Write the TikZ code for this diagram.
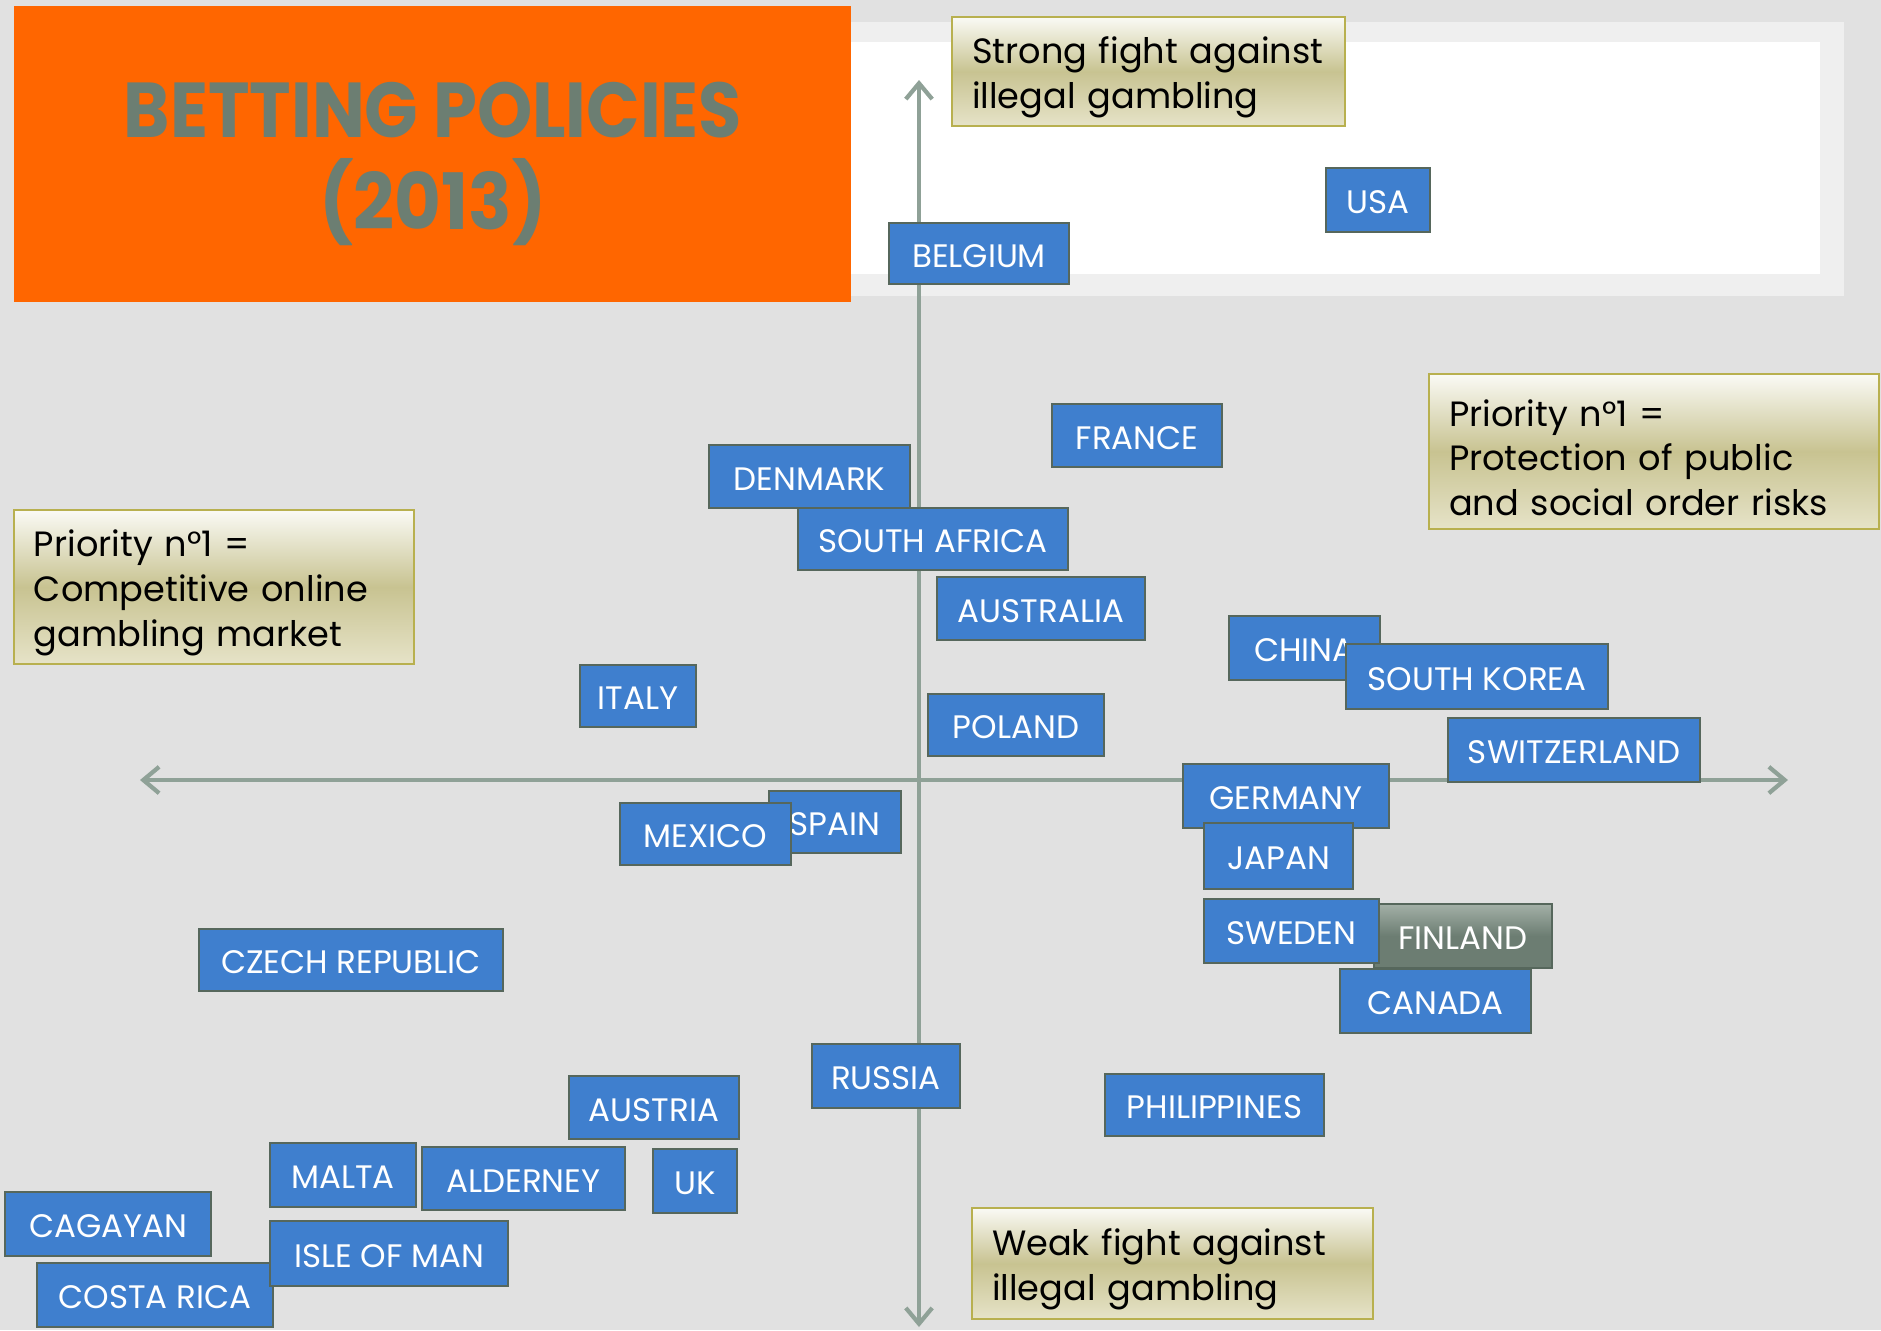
\documentclass[tikz,border=0pt]{standalone}
\usepackage{fontspec}
\setmainfont{Poppins}
\usetikzlibrary{arrows.meta}
\definecolor{bg}{HTML}{E1E1E1}
\definecolor{panelframe}{HTML}{EFEFEF}
\definecolor{orng}{HTML}{FF6600}
\definecolor{ttlc}{HTML}{6C7E72}
\definecolor{axisc}{HTML}{8FA197}
\definecolor{cblue}{HTML}{3F7FCE}
\definecolor{cedge}{HTML}{56675C}
\definecolor{kh}{HTML}{C8C391}
\definecolor{khtop}{HTML}{FAFAF5}
\definecolor{khbot}{HTML}{E6E3C8}
\definecolor{khedge}{HTML}{B8B04F}
\definecolor{fintop}{HTML}{A3B0A7}
\definecolor{finbot}{HTML}{6C7D72}
\tikzset{
  cty/.style={draw=cedge, line width=1.4pt, fill=cblue, text=white, inner sep=0pt,
    text height=15.5pt, text depth=0pt,
    font=\fontsize{18.5}{22}\selectfont},
  lbl/.style={draw=khedge, line width=1.2pt, top color=khtop, bottom color=khbot, middle color=kh,
    inner xsep=0.4cm, inner ysep=0pt, align=left, text=black,
    font=\fontsize{20}{25.5}\selectfont},
  axisline/.style={draw=axisc, line width=2pt, {Straight Barb[length=9pt,width=15pt,line width=2.4pt]}-{Straight Barb[length=9pt,width=15pt,line width=2.4pt]}},
  ttl/.style={text=ttlc, font=\fontsize{43}{50}\selectfont\bfseries, inner sep=0pt}
}
\newcommand\ctrybox[6]{\node[cty, minimum width={(#4-#2)*0.02cm}, minimum height={(#5-#3)*0.02cm}] (#1) at ({(#2+#4)/2},{(#3+#5)/2}) {#6};}
\newcommand\lblbox[6]{\node[lbl, minimum width={(#4-#2)*0.02cm}, minimum height={(#5-#3)*0.02cm}, text width={(#4-#2)*0.02cm-0.8cm}] (#1) at ({(#2+#4)/2},{(#3+#5)/2}) {\raisebox{-3.5pt}[\height][\depth]{\parbox{\linewidth}{#6}}};}
\begin{document}
\begin{tikzpicture}[x=0.02cm, y=-0.02cm]
\useasboundingbox (0,0) rectangle (1881,1330);
\fill[bg] (0,0) rectangle (1881,1330);
% white panel
\fill[panelframe] (851,22) rectangle (1844,296);
\fill[white] (851,42) rectangle (1820,274);
% title box
\node[fill=orng, minimum width={837*0.02cm}, minimum height={296*0.02cm}, inner sep=0pt] (titlebox) at (432.5,154) {};
\node[ttl] (title1) at (433,110) {\scalebox{0.93}[1.03]{BETTING POLICIES}};
\node[ttl] (title2) at (433,202) {\scalebox{0.95}[1.03]{(2013)}};
% axes
\coordinate (ytop) at (919,80);
\coordinate (ybot) at (919,1327);
\coordinate (xleft) at (140,780);
\coordinate (xright) at (1788,780);
\draw[axisline] (ybot) -- (ytop);
\draw[axisline] (xleft) -- (xright);
% label boxes
\lblbox{strong}{952}{17}{1345}{126}{Strong fight against\\illegal gambling}
\lblbox{protect}{1429}{374}{1879}{529}{Priority n°1 =\\Protection of public\\and social order risks}
\lblbox{compet}{14}{510}{414}{664}{Priority n°1 =\\Competitive online\\gambling market}
\lblbox{weak}{972}{1208}{1373}{1319}{Weak fight against\\illegal gambling}
% countries
\ctrybox{usa}{1326}{168}{1430}{232}{USA}
\ctrybox{belgium}{889}{223}{1069}{284}{BELGIUM}
\ctrybox{france}{1052}{404}{1222}{467}{FRANCE}
\ctrybox{denmark}{709}{445}{910}{508}{DENMARK}
\ctrybox{southafrica}{798}{508}{1068}{570}{SOUTH AFRICA}
\ctrybox{australia}{937}{577}{1145}{640}{AUSTRALIA}
\ctrybox{china}{1229}{616}{1380}{680}{CHINA}
\ctrybox{southkorea}{1346}{644}{1608}{709}{SOUTH KOREA}
\ctrybox{italy}{580}{665}{696}{727}{ITALY}
\ctrybox{poland}{928}{694}{1104}{756}{POLAND}
\ctrybox{switzerland}{1448}{718}{1700}{782}{SWITZERLAND}
\ctrybox{spain}{769}{791}{901}{853}{SPAIN}
\ctrybox{mexico}{620}{803}{791}{865}{MEXICO}
\ctrybox{germany}{1183}{764}{1389}{828}{GERMANY}
\ctrybox{japan}{1204}{823}{1353}{889}{JAPAN}
\node[cty, draw=cedge, top color=fintop, bottom color=finbot, middle color=finbot, minimum width={(1548-1370)*0.02cm}, minimum height={(968-904)*0.02cm}] (finland) at ({(1370+1548)/2+4},{(904+968)/2}) {FINLAND};
\ctrybox{sweden}{1204}{899}{1379}{963}{SWEDEN}
\ctrybox{canada}{1340}{969}{1531}{1033}{CANADA}
\ctrybox{czech}{199}{929}{503}{991}{CZECH REPUBLIC}
\ctrybox{russia}{812}{1044}{960}{1108}{RUSSIA}
\ctrybox{philippines}{1105}{1074}{1324}{1136}{PHILIPPINES}
\ctrybox{austria}{569}{1076}{739}{1139}{AUSTRIA}
\ctrybox{malta}{270}{1143}{416}{1207}{MALTA}
\ctrybox{alderney}{422}{1147}{625}{1210}{ALDERNEY}
\ctrybox{uk}{653}{1149}{737}{1213}{UK}
\ctrybox{cagayan}{5}{1192}{211}{1256}{CAGAYAN}
\ctrybox{costarica}{37}{1263}{273}{1327}{COSTA RICA}
\ctrybox{isleofman}{270}{1221}{508}{1286}{ISLE OF MAN}
\end{tikzpicture}
\end{document}
